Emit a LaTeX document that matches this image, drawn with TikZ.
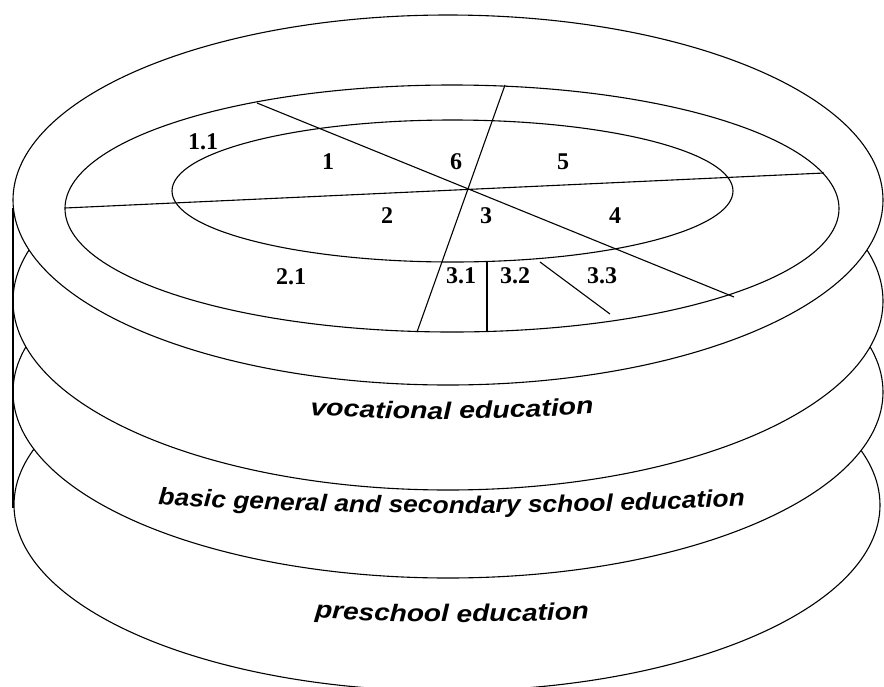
\documentclass[tikz,border=0pt]{standalone}
\usepackage{fontspec}
\setmainfont{Liberation Serif}
\newfontfamily\waA[FakeStretch=1.19]{Liberation Sans}
\newfontfamily\waB[FakeStretch=1.10]{Liberation Sans}
\newfontfamily\waC[FakeStretch=1.17]{Liberation Sans}
\usetikzlibrary{decorations.text}
\begin{document}
\begin{tikzpicture}[x=1pt,y=-1pt, line width=1.1pt,
  ring/.style={draw=black, fill=white, line width=1.1pt},
  seg/.style={draw=black, line width=1.1pt},
  num/.style={font=\fontsize{24}{26}\selectfont\bfseries, inner sep=0pt},
]
\useasboundingbox (0,0) rectangle (884,686);
\clip (0,0) rectangle (884,686);
% stacked discs, bottom first
\path[ring] (447,505) ellipse [x radius=433pt, y radius=186pt];
\path[ring] (448,392) ellipse [x radius=435pt, y radius=186pt];
\path[ring] (448,301) ellipse [x radius=435pt, y radius=189pt];
\path[ring] (448,200) ellipse [x radius=435pt, y radius=185pt];
% rings on the top face
\draw[seg] (452,208.5) ellipse [x radius=387pt, y radius=123.5pt];
\draw[seg] (452.5,191) ellipse [x radius=280.5pt, y radius=71pt];
% left vertical edge
\coordinate (v1) at (13,208);
\coordinate (v2) at (13,508);
\draw[seg] (v1) -- (v2);
% dividing lines
\coordinate (cen) at (467,190);
\coordinate (a1) at (65,208);
\coordinate (a2) at (824,173);
\coordinate (b1) at (505,85);
\coordinate (b2) at (417,332);
\coordinate (c1) at (257,103);
\coordinate (c2) at (734,297);
\coordinate (d1) at (487,261);
\coordinate (d2) at (487,332);
\coordinate (e1) at (540,262);
\coordinate (e2) at (610,314);
\draw[seg] (a1) -- (a2);
\draw[seg] (b1) -- (b2);
\draw[seg] (c1) -- (c2);
\draw[seg] (d1) -- (d2);
\draw[seg] (e1) -- (e2);
% labels
\node[num] (l11) at (203,142) {1.1};
\node[num] (l1)  at (328,162) {1};
\node[num] (l6)  at (456,162) {6};
\node[num] (l5)  at (563,162) {5};
\node[num] (l2)  at (387,216) {2};
\node[num] (l3)  at (486,216) {3};
\node[num] (l4)  at (615,216) {4};
\node[num] (l21) at (291,277) {2.1};
\node[num] (l31) at (461,276) {3.1};
\node[num] (l32) at (515,276) {3.2};
\node[num] (l33) at (602,276) {3.3};
% curved captions
\path[decorate, decoration={text along path, text align=center,
  text={|\waA\fontsize{24}{28}\selectfont\bfseries\itshape|vocational education}}]
  (296,414) .. controls (390,421) and (510,421) .. (608,412);
\path[decorate, decoration={text along path, text align=center,
  text={|\waB\fontsize{24}{28}\selectfont\bfseries\itshape|basic general and secondary school education}}]
  (150,504) .. controls (350,516) and (550,516) .. (753,505);
\path[decorate, decoration={text along path, text align=center,
  text={|\waC\fontsize{24}{28}\selectfont\bfseries\itshape|preschool education}}]
  (305,617) .. controls (390,623.5) and (510,623.5) .. (599,618);
\end{tikzpicture}
\end{document}
